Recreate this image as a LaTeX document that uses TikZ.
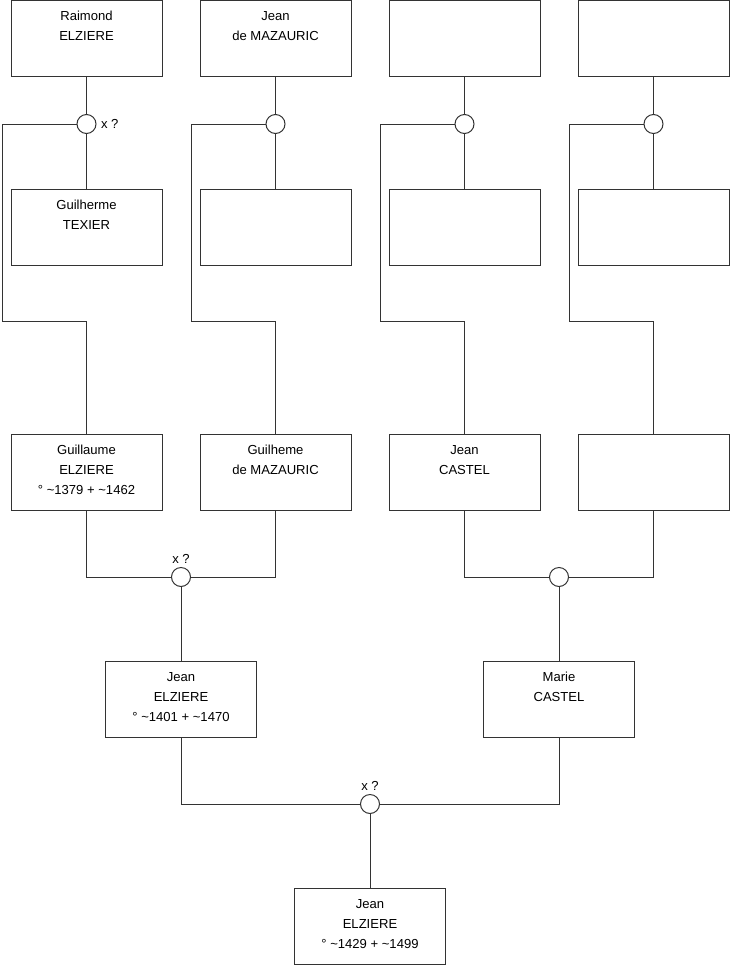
\documentclass[tikz,border=0pt]{standalone}
\usepackage{fontspec}
\setmainfont{Liberation Sans}
\usetikzlibrary{positioning}
\definecolor{linegray}{HTML}{333333}
\newcommand{\who}[1]{\parbox[c][57pt][t]{113.25pt}{\centering\rule{0pt}{15.4pt}#1}}

\tikzset{
  person/.style={draw=linegray, fill=white, minimum width=113.25pt, minimum height=57pt, inner sep=0pt, font=\fontsize{9.8}{15}\selectfont},
  union/.style={draw=linegray, fill=white, circle, minimum size=14.25pt, inner sep=0pt},
  link/.style={draw=linegray, line width=0.75pt},
  note/.style={font=\fontsize{9.8}{11}\selectfont, inner sep=1pt},
}

\begin{document}
\begin{tikzpicture}[x=0.75pt, y=-0.75pt, line width=0.75pt]
  \useasboundingbox (0,0) rectangle (740,975);

  % grand-grandparents
  \node[person] (raimond) at (86.5,38) {\who{Raimond\\ELZIERE}};
  \node[person] (jeanmaz) at (275.5,38) {\who{Jean\\de MAZAURIC}};
  \node[person] (top3) at (464.5,38) {\who{}};
  \node[person] (top4) at (653.5,38) {\who{}};

  \node[person] (guilherme) at (86.5,227) {\who{Guilherme\\TEXIER}};
  \node[person] (mid2) at (275.5,227) {\who{}};
  \node[person] (mid3) at (464.5,227) {\who{}};
  \node[person] (mid4) at (653.5,227) {\who{}};

  % unions
  \node[union] (m1) at (86.5,124) {};
  \node[union] (m2) at (275.5,124) {};
  \node[union] (m3) at (464.5,124) {};
  \node[union] (m4) at (653.5,124) {};
  \node[note, right=2pt of m1] (x1) {x ?};

  % grandparents
  \node[person] (guillaume) at (86.5,472) {\who{Guillaume\\ELZIERE\\° \textasciitilde1379 + \textasciitilde1462}};
  \node[person] (guilheme) at (275.5,472) {\who{Guilheme\\de MAZAURIC}};
  \node[person] (jeancastel) at (464.5,472) {\who{Jean\\CASTEL}};
  \node[person] (row3d) at (653.5,472) {\who{}};

  \coordinate (k1) at (2,321);
  \coordinate (k2) at (191,321);
  \coordinate (k3) at (380,321);
  \coordinate (k4) at (569,321);

  \draw[link] (raimond) -- (m1);
  \draw[link] (m1) -- (guilherme);
  \draw[link] (m1.west) -| (k1) -| (guillaume.north);
  \draw[link] (jeanmaz) -- (m2);
  \draw[link] (m2) -- (mid2);
  \draw[link] (m2.west) -| (k2) -| (guilheme.north);
  \draw[link] (top3) -- (m3);
  \draw[link] (m3) -- (mid3);
  \draw[link] (m3.west) -| (k3) -| (jeancastel.north);
  \draw[link] (top4) -- (m4);
  \draw[link] (m4) -- (mid4);
  \draw[link] (m4.west) -| (k4) -| (row3d.north);

  % parents
  \node[union] (m5) at (181,577) {};
  \node[union] (m6) at (559,577) {};
  \node[note, above=1pt of m5] (x5) {x ?};
  \node[person] (jean1401) at (181,699) {\who{Jean\\ELZIERE\\° \textasciitilde1401 + \textasciitilde1470}};
  \node[person] (marie) at (559,699) {\who{Marie\\CASTEL}};

  \draw[link] (guillaume.south) |- (m5.west);
  \draw[link] (guilheme.south) |- (m5.east);
  \draw[link] (m5) -- (jean1401);
  \draw[link] (jeancastel.south) |- (m6.west);
  \draw[link] (row3d.south) |- (m6.east);
  \draw[link] (m6) -- (marie);

  % child
  \node[union] (m7) at (370,804) {};
  \node[note, above=1pt of m7] (x7) {x ?};
  \node[person] (jean1429) at (370,926) {\who{Jean\\ELZIERE\\° \textasciitilde1429 + \textasciitilde1499}};

  \draw[link] (jean1401.south) |- (m7.west);
  \draw[link] (marie.south) |- (m7.east);
  \draw[link] (m7) -- (jean1429);
\end{tikzpicture}
\end{document}
